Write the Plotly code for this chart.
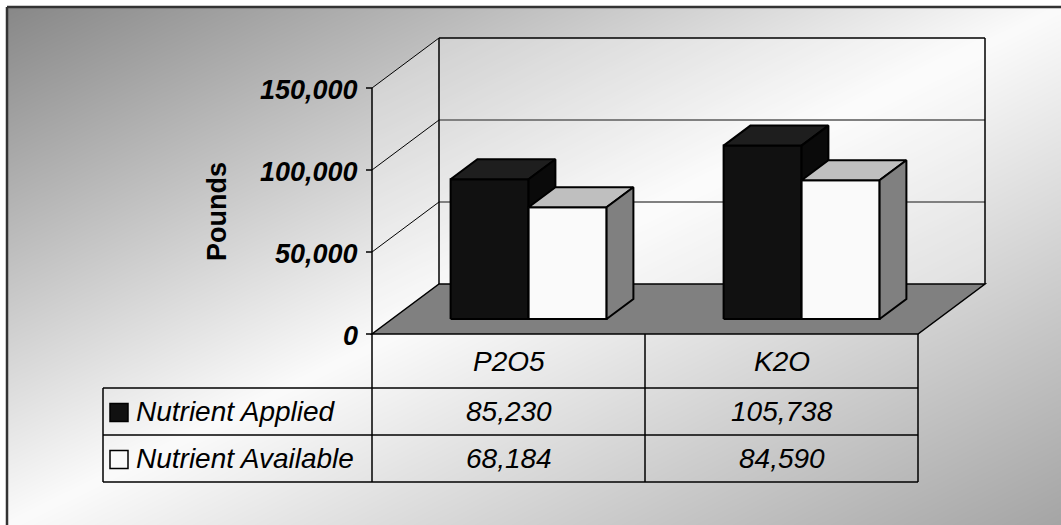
import base64
import struct
import zlib

import numpy as np
import plotly.graph_objects as go

# ---- data -------------------------------------------------------------
categories = ["P2O5", "K2O"]
series_names = ["Nutrient Applied", "Nutrient Available"]
applied = [85230, 105738]
available = [68184, 84590]
tick_values = [0, 50000, 100000, 150000]
tick_labels = ["0", "50,000", "100,000", "150,000"]
axis_title = "Pounds"

# ---- canvas / projection ---------------------------------------------
W, H = 1061, 525
FRONT_LEFT_PX, FRONT_RIGHT_PX = 372, 918      # front edge of the floor
ZERO_PX = 334                                 # value 0 on the front plane
SX = (FRONT_RIGHT_PX - FRONT_LEFT_PX) / 2.0   # px per category unit
SY = 82.0 / 50000.0                           # px per pound
DEPTH_PX = (67.0, 50.0)                       # screen offset of full depth

DX = DEPTH_PX[0] / SX
DY = DEPTH_PX[1] / SY
VMAX = 150000

x_min = -0.5 - FRONT_LEFT_PX / SX
x_max = x_min + W / SX
y_min = -(H - ZERO_PX) / SY
y_max = y_min + H / SY


def P(c, v, d):
    """Project (category, value, depth 0..1) onto the 2-D data plane."""
    return c + d * DX, v + d * DY


def path(points):
    return "M " + " L ".join(f"{x},{y}" for x, y in points) + " Z"


def px(x):
    return x / W


def py(y):
    return 1 - y / H


# ---- background gradient image ----------------------------------------
def gray_png(arr):
    h, w = arr.shape
    raw = b"".join(b"\x00" + arr[r].tobytes() for r in range(h))

    def chunk(tag, data):
        return (struct.pack(">I", len(data)) + tag + data
                + struct.pack(">I", zlib.crc32(tag + data) & 0xFFFFFFFF))

    png = b"\x89PNG\r\n\x1a\n"
    png += chunk(b"IHDR", struct.pack(">IIBBBBB", w, h, 8, 0, 0, 0, 0))
    png += chunk(b"IDAT", zlib.compress(raw, 9))
    png += chunk(b"IEND", b"")
    return "data:image/png;base64," + base64.b64encode(png).decode()


FRAME = 7
yy, xx = np.mgrid[0:H, 0:W].astype(float)
u = (xx - FRAME) / (W - FRAME) + (yy - FRAME) / (H - FRAME)
u = np.clip(u, 0, 2)
shade = np.where(u < 1, 136 + (251 - 136) * u, 251 - (251 - 165) * (u - 1))
shade[(xx < FRAME) | (yy < FRAME)] = 255
bg_img = gray_png(np.clip(shade, 0, 255).astype(np.uint8))

# ---- figure -------------------------------------------------------------
fig = go.Figure()
shapes = []

# walls
side_wall = [P(-0.5, 0, 0), P(-0.5, 0, 1), P(-0.5, VMAX, 1), P(-0.5, VMAX, 0)]
back_wall = [P(-0.5, 0, 1), P(1.5, 0, 1), P(1.5, VMAX, 1), P(-0.5, VMAX, 1)]
for poly in (side_wall, back_wall):
    shapes.append(dict(type="path", path=path(poly), xref="x", yref="y",
                       fillcolor="rgba(255,255,255,0.30)",
                       line=dict(width=0), layer="below"))

# gridlines on back wall and side wall
for v in tick_values[1:]:
    a, b = P(-0.5, v, 1), P(1.5, v, 1)
    if v < VMAX:
        shapes.append(dict(type="line", x0=a[0], y0=a[1], x1=b[0], y1=b[1],
                           xref="x", yref="y", layer="below",
                           line=dict(color="#808080", width=2)))
    c0, c1 = P(-0.5, v, 0), P(-0.5, v, 1)
    shapes.append(dict(type="line", x0=c0[0], y0=c0[1], x1=c1[0], y1=c1[1],
                       xref="x", yref="y", layer="below",
                       line=dict(color="#000000", width=1)))

# back wall outline (left, top, right)
bw_edges = [(P(-0.5, 0, 1), P(-0.5, VMAX, 1)),
            (P(-0.5, VMAX, 1), P(1.5, VMAX, 1)),
            (P(1.5, VMAX, 1), P(1.5, 0, 1))]
for a, b in bw_edges:
    shapes.append(dict(type="line", x0=a[0], y0=a[1], x1=b[0], y1=b[1],
                       xref="x", yref="y", layer="below",
                       line=dict(color="#000000", width=1.5)))

# floor
floor = [P(-0.5, 0, 0), P(1.5, 0, 0), P(1.5, 0, 1), P(-0.5, 0, 1)]
shapes.append(dict(type="path", path=path(floor), xref="x", yref="y",
                   fillcolor="#808080", line=dict(color="#000000", width=1.5),
                   layer="below"))

# value axis line and ticks
shapes.append(dict(type="line", x0=-0.5, y0=0, x1=-0.5, y1=VMAX,
                   xref="x", yref="y", line=dict(color="#000000", width=1.5)))
for v in tick_values:
    shapes.append(dict(type="line", x0=-0.5 - 6 / SX, y0=v, x1=-0.5, y1=v,
                       xref="x", yref="y", line=dict(color="#000000", width=1.5)))

# ---- 3-D bars -------------------------------------------------------------
BAR_W = 1 / 3.5           # gap width 150 %
D0, D1 = 0.3, 0.7         # bar depth inside the floor

styles = [
    dict(front="#111111", top="#1e1e1e", side="#0a0a0a"),
    dict(front="#fafafa", top="#bfbfbf", side="#808080"),
]

for s, (name, values) in enumerate(zip(series_names, [applied, available])):
    faces = {"front": ([], []), "top": ([], []), "side": ([], [])}
    for i, v in enumerate(values):
        left = i - BAR_W + s * BAR_W
        right = left + BAR_W
        polys = {
            "front": [P(left, 0, D0), P(right, 0, D0), P(right, v, D0), P(left, v, D0)],
            "top": [P(left, v, D0), P(right, v, D0), P(right, v, D1), P(left, v, D1)],
            "side": [P(right, 0, D0), P(right, 0, D1), P(right, v, D1), P(right, v, D0)],
        }
        for key, poly in polys.items():
            xs, ys = faces[key]
            xs += [p[0] for p in poly] + [poly[0][0], None]
            ys += [p[1] for p in poly] + [poly[0][1], None]
    for key in ("front", "top", "side"):
        xs, ys = faces[key]
        fig.add_trace(go.Scatter(
            x=xs, y=ys, mode="lines", fill="toself",
            fillcolor=styles[s][key], name=name,
            line=dict(color="#000000", width=2), hoverinfo="skip",
            showlegend=False))

# ---- data table -----------------------------------------------------------
ROW_EDGES_PX = [334, 388, 435, 482]
LABEL_LEFT_PX = 103

for x in (-0.5, 0.5, 1.5):
    shapes.append(dict(type="line", x0=x, x1=x, xref="x", yref="paper",
                       y0=py(ROW_EDGES_PX[0]), y1=py(ROW_EDGES_PX[-1]),
                       line=dict(color="#000000", width=1.5)))
shapes.append(dict(type="line", x0=px(LABEL_LEFT_PX), x1=px(LABEL_LEFT_PX),
                   xref="paper", yref="paper",
                   y0=py(ROW_EDGES_PX[1]), y1=py(ROW_EDGES_PX[-1]),
                   line=dict(color="#000000", width=1.5)))
for y in ROW_EDGES_PX[1:]:
    shapes.append(dict(type="line", xref="paper", yref="paper",
                       x0=px(LABEL_LEFT_PX), x1=px(FRONT_RIGHT_PX),
                       y0=py(y), y1=py(y),
                       line=dict(color="#000000", width=1.5)))

# legend keys inside the table
key_fill = ["#111111", "#fafafa"]
for r in range(2):
    yc = (ROW_EDGES_PX[r + 1] + ROW_EDGES_PX[r + 2]) / 2
    shapes.append(dict(type="rect", xref="paper", yref="paper",
                       x0=px(110), x1=px(128), y0=py(yc - 8), y1=py(yc + 10),
                       fillcolor=key_fill[r],
                       line=dict(color="#000000", width=1.5)))

# frame (top and left edges)
shapes.append(dict(type="line", xref="paper", yref="paper",
                   x0=px(FRAME), x1=1.0, y0=py(FRAME), y1=py(FRAME),
                   line=dict(color="#333333", width=2.5)))
shapes.append(dict(type="line", xref="paper", yref="paper",
                   x0=px(FRAME), x1=px(FRAME), y0=py(FRAME), y1=0.0,
                   line=dict(color="#333333", width=2.5)))

FONT = "Liberation Sans, Arial, sans-serif"
AXIS_SIZE = 27
TABLE_SIZE = 28
annotations = []

# value-axis labels
for v, lab in zip(tick_values, tick_labels):
    annotations.append(dict(x=-0.5, y=v, xref="x", yref="y", text=lab,
                            showarrow=False, xanchor="right", yanchor="middle",
                            xshift=-12, yshift=-2,
                            font=dict(family=FONT, size=AXIS_SIZE, color="#000000",
                                      weight="bold", style="italic")))
annotations.append(dict(x=px(217), y=py(212), xref="paper", yref="paper",
                        text=axis_title, textangle=-90, showarrow=False,
                        xanchor="center", yanchor="middle",
                        font=dict(family=FONT, size=AXIS_SIZE, color="#000000",
                                  weight="bold")))

# table text
hdr_y = (ROW_EDGES_PX[0] + ROW_EDGES_PX[1]) / 2
for i, cat in enumerate(categories):
    annotations.append(dict(x=i, y=py(hdr_y), xref="x", yref="paper", text=cat,
                            showarrow=False, xanchor="center", yanchor="middle",
                            font=dict(family=FONT, size=TABLE_SIZE, color="#000000",
                                      style="italic")))
for r, (name, values) in enumerate(zip(series_names, [applied, available])):
    yc = (ROW_EDGES_PX[r + 1] + ROW_EDGES_PX[r + 2]) / 2
    annotations.append(dict(x=px(134), y=py(yc), xref="paper", yref="paper",
                            text=name, showarrow=False, xanchor="left",
                            yanchor="middle",
                            font=dict(family=FONT, size=TABLE_SIZE, color="#000000",
                                      style="italic")))
    for i, v in enumerate(values):
        annotations.append(dict(x=i, y=py(yc), xref="x", yref="paper",
                                text=f"{v:,}", showarrow=False,
                                xanchor="center", yanchor="middle",
                                font=dict(family=FONT, size=TABLE_SIZE,
                                          color="#000000", style="italic")))

fig.update_layout(
    width=W, height=H,
    margin=dict(l=0, r=0, t=0, b=0),
    paper_bgcolor="#ffffff",
    plot_bgcolor="rgba(0,0,0,0)",
    showlegend=False,
    xaxis=dict(range=[x_min, x_max], visible=False, fixedrange=True,
               domain=[0, 1]),
    yaxis=dict(range=[y_min, y_max], visible=False, fixedrange=True,
               domain=[0, 1]),
    images=[dict(source=bg_img, xref="paper", yref="paper", x=0, y=1,
                 sizex=1, sizey=1, xanchor="left", yanchor="top",
                 sizing="stretch", layer="below")],
    shapes=shapes,
    annotations=annotations,
)

fig.write_html("out.html", config={"displayModeBar": False})
